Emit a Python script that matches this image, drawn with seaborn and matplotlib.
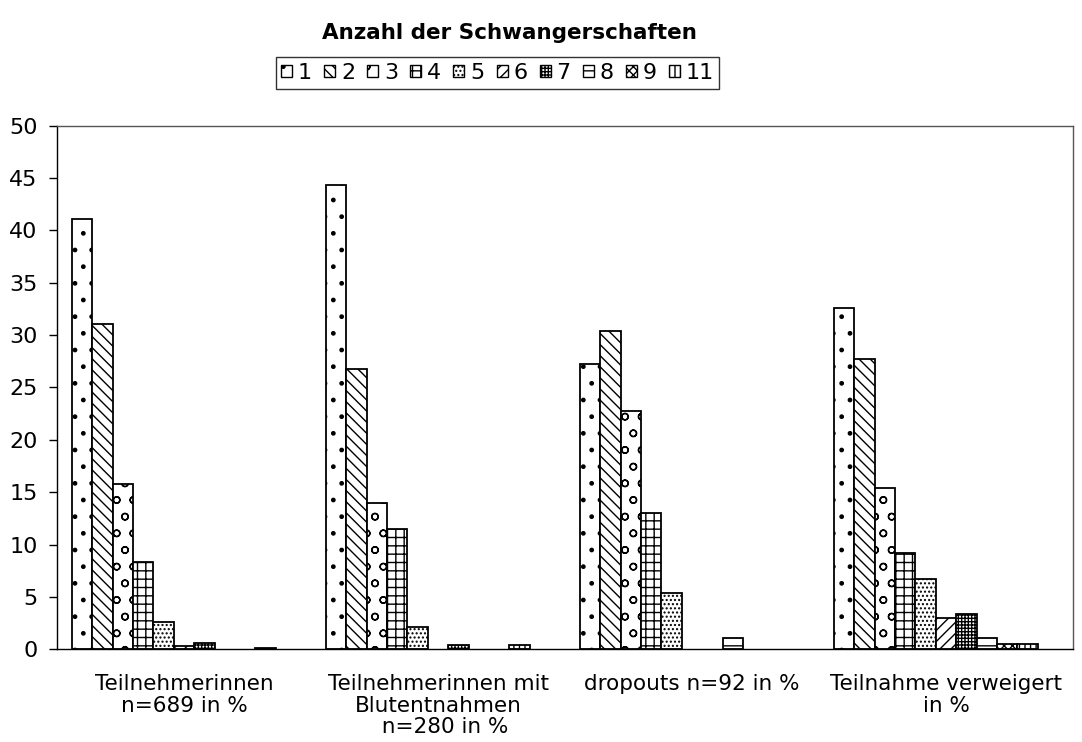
import numpy as np
import pandas as pd
import matplotlib
matplotlib.use("Agg")
import matplotlib.pyplot as plt
import seaborn as sns
from matplotlib.patches import Patch

# categories (x groups)
groups = ["Teilnehmerinnen\nn=689 in %",
          "Teilnehmerinnen mit\nBlutentnahmen\n  n=280 in %",
          "dropouts n=92 in %",
          "Teilnahme verweigert\nin %"]

# number of pregnancies (series)
series = ["1", "2", "3", "4", "5", "6", "7", "8", "9", "11"]

# percent values per group, one list per series order above
vals_teil = [41.1, 31.1, 15.8, 8.3, 2.6, 0.3, 0.6, 0.0, 0.0, 0.15]
vals_blut = [44.3, 26.8, 14.0, 11.5, 2.1, 0.0, 0.4, 0.0, 0.0, 0.4]
vals_drop = [27.2, 30.4, 22.8, 13.0, 5.4, 0.0, 0.0, 1.1, 0.0, 0.0]
vals_verw = [32.6, 27.7, 15.4, 9.2, 6.7, 3.0, 3.4, 1.1, 0.5, 0.5]

hatches = [".", "\\\\\\", "o", "++", "....", "///", "+++++", "--", "xxxx", "|||"]

rows = []
for g, vals in zip(groups, [vals_teil, vals_blut, vals_drop, vals_verw]):
    for s, v in zip(series, vals):
        rows.append({"Gruppe": g, "Anzahl": s, "Prozent": v})
df = pd.DataFrame(rows)

sns.set_style("white")
plt.rcParams["font.family"] = ["DejaVu Sans"]
plt.rcParams["hatch.linewidth"] = 1.0
plt.rcParams["text.color"] = "black"
plt.rcParams["xtick.color"] = "black"
plt.rcParams["ytick.color"] = "black"

fig = plt.figure(figsize=(10.82, 7.42), dpi=100)
ax = fig.add_axes([0.0527, 0.125, 0.9390, 0.7056])

# Excel reserves an eleventh (empty) slot per group -> pad hue level
hue_order = series + ["pad"]
pal = {s: "white" for s in hue_order}
sns.barplot(data=df, x="Gruppe", y="Prozent", hue="Anzahl", hue_order=hue_order,
            palette=pal, width=0.883, edgecolor="black", linewidth=1.3,
            errorbar=None, legend=False, ax=ax, order=groups)

n_groups = len(groups)
for i, cont in enumerate(ax.containers):
    if i >= len(series):
        continue
    for bar in cont:
        bar.set_hatch(hatches[i])
        if bar.get_height() == 0:
            bar.set_visible(False)

ax.set_ylim(0, 50)
ax.set_yticks(np.arange(0, 51, 5))
ax.set_xlim(-0.5, n_groups - 0.5)
ax.set_xlabel("")
ax.set_ylabel("")
ax.set_xticks(range(n_groups))
ax.set_xticklabels(groups, fontsize=15.5, linespacing=1.08, color="black")
ax.tick_params(axis="x", length=0, pad=18)
ax.set_xticks(np.arange(-0.5, n_groups, 1), minor=True)
ax.tick_params(axis="x", which="minor", length=6, width=1, color="black", direction="out")
ax.tick_params(axis="y", length=6, width=1, color="black", direction="out",
               labelsize=16, labelcolor="black", left=True, pad=8)
for sp in ax.spines.values():
    sp.set_color("black")
    sp.set_linewidth(1.0)
ax.spines["top"].set_color("#555555")
ax.spines["right"].set_color("#555555")

fig.text(0.471, 0.955, "Anzahl der Schwangerschaften", ha="center", va="center",
         fontsize=15.5, fontweight="bold", color="black")

handles = [Patch(facecolor="white", edgecolor="black", hatch=h, label=s)
           for s, h in zip(series, hatches)]
leg = fig.legend(handles=handles, loc="center", bbox_to_anchor=(0.4597, 0.9016), ncol=10,
                 fontsize=16, frameon=True, fancybox=False, edgecolor="black",
                 handlelength=0.5, handleheight=0.5, handletextpad=0.25, columnspacing=0.55,
                 borderpad=0.25)
leg.get_frame().set_linewidth(1.0)
for t in leg.get_texts():
    t.set_color("black")

fig.savefig("out.png", dpi=100)
